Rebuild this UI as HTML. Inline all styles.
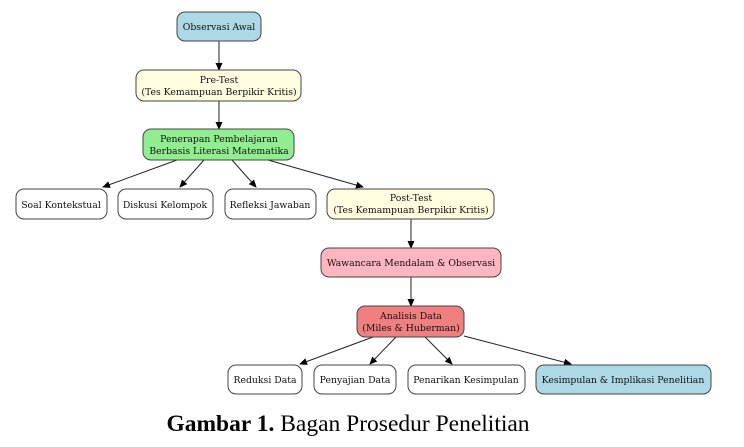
<!DOCTYPE html>
<html><head><meta charset="utf-8"><style>
html,body{margin:0;padding:0;background:#fff;width:744px;height:447px;overflow:hidden}
svg text{font-family:"DejaVu Serif","Liberation Serif",serif;font-size:9.3px;fill:#111;text-anchor:middle}
</style></head><body>
<svg width="744" height="447" viewBox="0 0 744 447" xmlns="http://www.w3.org/2000/svg">
<defs><marker id="a" markerWidth="8" markerHeight="8" refX="7" refY="4" orient="auto" markerUnits="userSpaceOnUse"><path d="M0,0.5 L8,4 L0,7.5 z" fill="#000"/></marker></defs>
<g stroke="#222" stroke-width="1" fill="none">
<line x1="219" y1="41" x2="219" y2="70" marker-end="url(#a)"/>
<line x1="219" y1="101" x2="219" y2="129" marker-end="url(#a)"/>
<line x1="177" y1="160" x2="103" y2="187" marker-end="url(#a)"/>
<line x1="204" y1="160" x2="180" y2="187" marker-end="url(#a)"/>
<line x1="232" y1="160" x2="256" y2="187" marker-end="url(#a)"/>
<line x1="268" y1="160" x2="363" y2="187" marker-end="url(#a)"/>
<line x1="411" y1="219" x2="411" y2="248" marker-end="url(#a)"/>
<line x1="411" y1="277" x2="411" y2="306" marker-end="url(#a)"/>
<line x1="373" y1="337" x2="300" y2="364" marker-end="url(#a)"/>
<line x1="396" y1="337" x2="370" y2="364" marker-end="url(#a)"/>
<line x1="425" y1="337" x2="452" y2="364" marker-end="url(#a)"/>
<line x1="464" y1="336" x2="571" y2="364" marker-end="url(#a)"/>
</g>
<g stroke="#444" stroke-width="1">
<rect x="177" y="12" width="84" height="29" rx="8" fill="#add8e6"/>
<rect x="136" y="70" width="165" height="31" rx="8" fill="#fffde0"/>
<rect x="143" y="129" width="151" height="31" rx="8" fill="#90ee90"/>
<rect x="16" y="189" width="91" height="30" rx="8" fill="#fff"/>
<rect x="118" y="189" width="95" height="30" rx="8" fill="#fff"/>
<rect x="225" y="189" width="91" height="30" rx="8" fill="#fff"/>
<rect x="327" y="189" width="167" height="30" rx="8" fill="#fffde0"/>
<rect x="321" y="248" width="180" height="29" rx="8" fill="#ffb6c1"/>
<rect x="357" y="306" width="107" height="31" rx="8" fill="#f08080"/>
<rect x="228" y="365" width="74" height="29" rx="8" fill="#fff"/>
<rect x="314" y="365" width="82" height="29" rx="8" fill="#fff"/>
<rect x="408" y="365" width="117" height="29" rx="8" fill="#fff"/>
<rect x="536" y="365" width="175" height="29" rx="8" fill="#add8e6"/>
</g>
<text x="219" y="30">Observasi Awal</text>
<text x="219" y="83">Pre-Test</text>
<text x="219" y="95">(Tes Kemampuan Berpikir Kritis)</text>
<text x="219" y="142">Penerapan Pembelajaran</text>
<text x="219" y="154">Berbasis Literasi Matematika</text>
<text x="61" y="208">Soal Kontekstual</text>
<text x="165" y="208">Diskusi Kelompok</text>
<text x="270" y="208">Refleksi Jawaban</text>
<text x="411" y="201">Post-Test</text>
<text x="411" y="213">(Tes Kemampuan Berpikir Kritis)</text>
<text x="411" y="266">Wawancara Mendalam &amp; Observasi</text>
<text x="411" y="319">Analisis Data</text>
<text x="411" y="331">(Miles &amp; Huberman)</text>
<text x="265" y="383">Reduksi Data</text>
<text x="355" y="383">Penyajian Data</text>
<text x="466" y="383">Penarikan Kesimpulan</text>
<text x="623" y="383">Kesimpulan &amp; Implikasi Penelitian</text>
<text x="348" y="431" style="font-family:'Liberation Serif',serif;font-size:23.5px;fill:#000"><tspan font-weight="bold">Gambar 1.</tspan> Bagan Prosedur Penelitian</text>
</svg>
</body></html>
